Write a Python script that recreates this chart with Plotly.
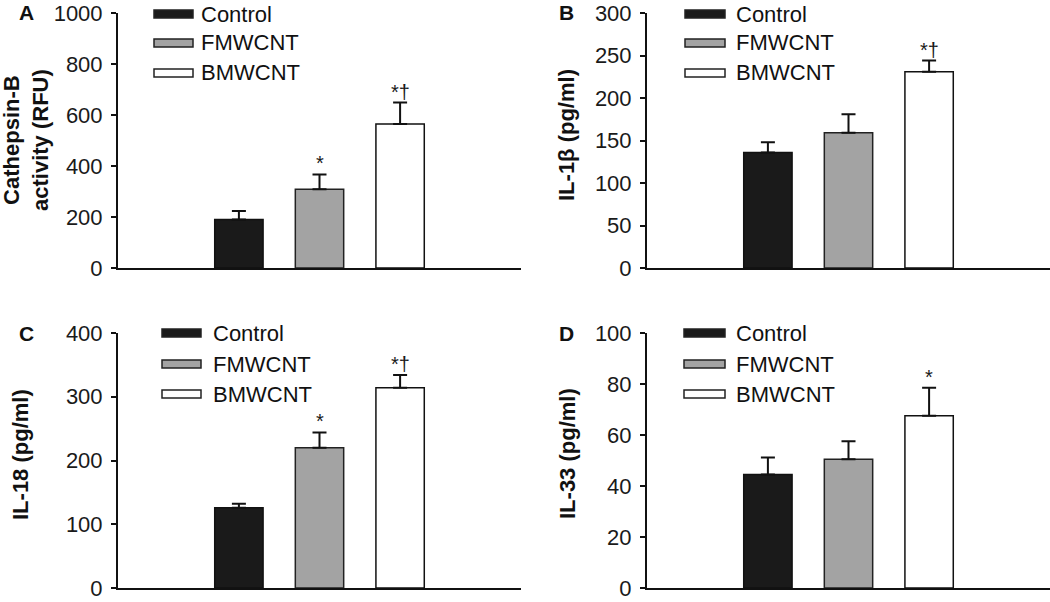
import plotly.graph_objects as go

# ---- data ----
groups = ["Control", "FMWCNT", "BMWCNT"]
cathepsin_b = [190, 309, 565]
cathepsin_b_err = [34, 58, 84]
il1b = [136, 159, 231]
il1b_err = [12, 22, 13]
il18 = [126, 220, 314]
il18_err = [6, 24, 20]
il33 = [44.5, 50.5, 67.5]
il33_err = [6.7, 7, 11]
marks_a = ["", "*", "*†"]
marks_b = ["", "", "*†"]
marks_c = ["", "*", "*†"]
marks_d = ["", "", "*"]

W, H = 1050, 602
FONT = "Liberation Sans, Arial, Helvetica, sans-serif"
fill_colors = ["#1a1a1a", "#a3a3a3", "#ffffff"]
line_colors = ["#111111", "#222222", "#111111"]


def px(x):
    return x / W


def py(y):
    return 1 - y / H


panels = [
    dict(vals=cathepsin_b, errs=cathepsin_b_err, marks=marks_a, ymax=1000, dtick=200,
         xd=(118, 521), yd=(13, 268), title="Cathepsin-B<br>activity (RFU)", tpos=(26, 140),
         letter="A", lpos=(26, 13), leg=(154, 193, 199, [14, 43, 73])),
    dict(vals=il1b, errs=il1b_err, marks=marks_b, ymax=300, dtick=50,
         xd=(647, 1050), yd=(13, 268), title="IL-1β (pg/ml)", tpos=(567, 135),
         letter="B", lpos=(566, 13), leg=(685, 725, 734, [14, 43, 73])),
    dict(vals=il18, errs=il18_err, marks=marks_c, ymax=400, dtick=100,
         xd=(118, 521), yd=(333, 588), title="IL-18 (pg/ml)", tpos=(20, 455),
         letter="C", lpos=(26, 333), leg=(162, 201, 211, [333, 364, 394])),
    dict(vals=il33, errs=il33_err, marks=marks_d, ymax=100, dtick=20,
         xd=(647, 1050), yd=(333, 588), title="IL-33 (pg/ml)", tpos=(567, 454),
         letter="D", lpos=(566, 333), leg=(684, 725, 734, [333, 364, 394])),
]

fig = go.Figure()
shapes = []
annotations = []

for i, p in enumerate(panels, start=1):
    sfx = "" if i == 1 else str(i)
    fig.add_trace(go.Bar(
        x=groups, y=p["vals"], width=0.6,
        marker=dict(color=fill_colors, line=dict(color=line_colors, width=1.5)),
        error_y=dict(type="data", symmetric=False, array=p["errs"],
                     arrayminus=[0, 0, 0], color="#111111", thickness=2, width=7),
        xaxis="x" + sfx, yaxis="y" + sfx, showlegend=False,
    ))
    fig.layout["xaxis" + sfx] = dict(
        domain=[px(p["xd"][0]), px(p["xd"][1])], range=[-1.5, 3.5],
        showline=True, linecolor="#111111", linewidth=2, showticklabels=False,
        ticks="", showgrid=False, zeroline=False, anchor="y" + sfx,
        type="category", fixedrange=True, automargin=False,
    )
    fig.layout["yaxis" + sfx] = dict(
        domain=[py(p["yd"][1]), py(p["yd"][0])], range=[0, p["ymax"]],
        dtick=p["dtick"], tick0=0, showline=True, linecolor="#111111", linewidth=2,
        ticks="outside", ticklen=5, tickwidth=2, tickcolor="#111111",
        tickfont=dict(family=FONT, size=22, color="#1a1a1a"), ticklabelstandoff=4,
        ticklabeloverflow="allow",
        showgrid=False, zeroline=False, anchor="x" + sfx, automargin=False,
    )
    # significance marks
    for g, v, e, m in zip(groups, p["vals"], p["errs"], p["marks"]):
        if m:
            annotations.append(dict(
                x=g, y=v + e, xref="x" + sfx, yref="y" + sfx, text=m, showarrow=False,
                yanchor="bottom", yshift=-2, font=dict(family=FONT, size=20, color="#1a1a1a"),
            ))
    # y-axis title
    annotations.append(dict(
        x=px(p["tpos"][0]), y=py(p["tpos"][1]), xref="paper", yref="paper",
        text="<b>" + p["title"] + "</b>", textangle=-90, showarrow=False,
        xanchor="center", yanchor="middle",
        font=dict(family=FONT, size=22, color="#111111"),
    ))
    # panel letter
    annotations.append(dict(
        x=px(p["lpos"][0]), y=py(p["lpos"][1]), xref="paper", yref="paper",
        text="<b>" + p["letter"] + "</b>", showarrow=False,
        xanchor="center", yanchor="middle",
        font=dict(family=FONT, size=21, color="#111111"),
    ))
    # legend (drawn manually for wide patches)
    x0, x1, tx, ys = p["leg"]
    for g, fc, yc in zip(groups, fill_colors, ys):
        shapes.append(dict(
            type="rect", xref="paper", yref="paper",
            x0=px(x0), x1=px(x1), y0=py(yc + 4), y1=py(yc - 4),
            fillcolor=fc, line=dict(color="#222222", width=1.5),
        ))
        annotations.append(dict(
            x=px(tx), y=py(yc), xref="paper", yref="paper", text=g,
            showarrow=False, xanchor="left", yanchor="middle",
            font=dict(family=FONT, size=22, color="#111111"),
        ))

fig.update_layout(
    width=W, height=H, margin=dict(l=0, r=0, t=0, b=0),
    paper_bgcolor="white", plot_bgcolor="white",
    shapes=shapes, annotations=annotations, showlegend=False,
    bargap=0.4,
)

fig.write_html(
    "out.html",
    config={"displayModeBar": False},
    post_script="document.body.style.margin='0';document.body.style.overflow='hidden';",
)
